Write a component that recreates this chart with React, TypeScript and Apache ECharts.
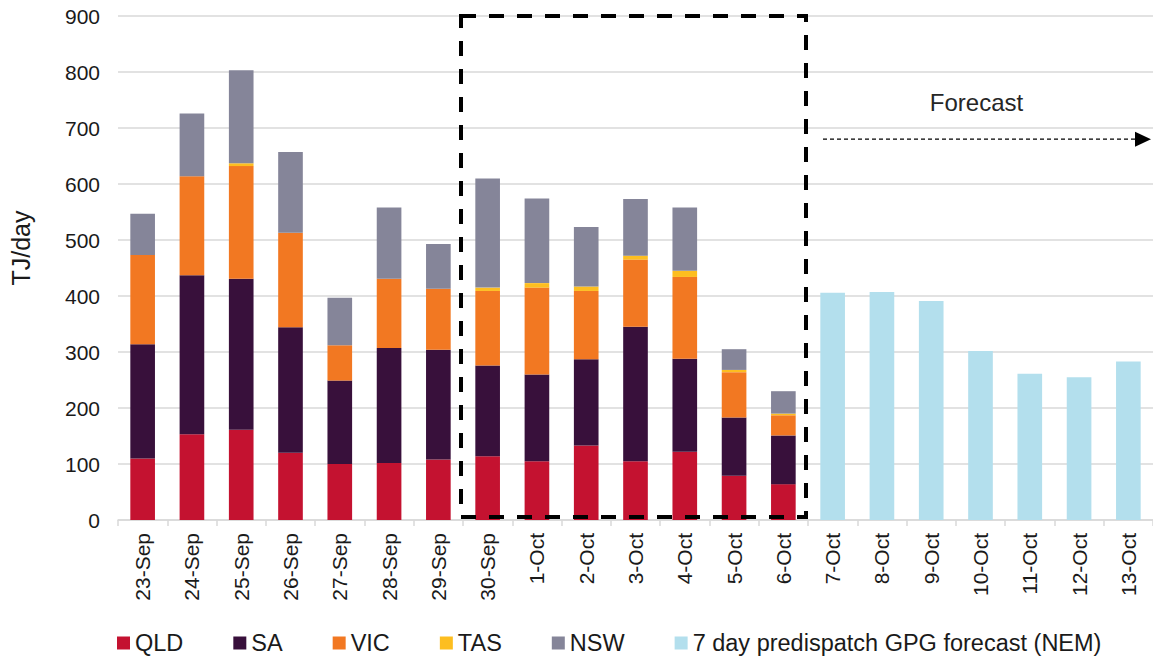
import React, { useEffect, useRef } from "react";
import * as echarts from "echarts";

const categories = [
  "23-Sep", "24-Sep", "25-Sep", "26-Sep", "27-Sep", "28-Sep", "29-Sep",
  "30-Sep", "1-Oct", "2-Oct", "3-Oct", "4-Oct", "5-Oct", "6-Oct",
  "7-Oct", "8-Oct", "9-Oct", "10-Oct", "11-Oct", "12-Oct", "13-Oct",
];
const qld = [110, 153, 161, 120, 100, 102, 108, 114, 105, 133, 105, 122, 79, 64];
const sa = [204, 284, 270, 224, 149, 205, 196, 162, 155, 154, 240, 166, 104, 87];
const vic = [159, 177, 201, 169, 63, 124, 109, 133, 155, 122, 120, 146, 81, 36];
const tas = [0, 0, 5, 0, 0, 0, 0, 6, 8, 8, 7, 11, 4, 3];
const nsw = [74, 112, 166, 144, 85, 127, 80, 195, 151, 106, 101, 113, 37, 40];
const forecast = [406, 407, 391, 302, 261, 255, 283];

const yTicks = { min: 0, max: 900, interval: 100 };
const boxRange = ["30-Sep", "6-Oct"];
const forecastLabel = "Forecast";
const arrowValue = 680;
const forecastTextValue = 745;

const FONT = "'Liberation Sans', Arial, sans-serif";
const TEXT = "#1a1a1a";

export default function App() {
  const ref = useRef<HTMLDivElement>(null);

  useEffect(() => {
    if (!ref.current) return;
    const chart = echarts.init(ref.current, undefined, { renderer: "svg" });
    const pad = (arr: number[]) => arr.concat(new Array(forecast.length).fill("-") as any);
    const fc = (new Array(qld.length).fill("-") as any[]).concat(forecast);

    const mk = (name: string, data: any[], color: string) => ({
      name,
      type: "bar",
      stack: "total",
      barWidth: "50%",
      data,
      itemStyle: { color },
      emphasis: { disabled: true },
    });

    chart.setOption({
      animation: false,
      textStyle: { fontFamily: FONT },
      grid: { left: 118, right: 0, top: 16, bottom: 141, containLabel: false },
      legend: {
        left: 112,
        top: 626,
        itemWidth: 13,
        itemHeight: 13,
        itemGap: 50,
        icon: "rect",
        textStyle: { fontSize: 23.5, color: TEXT, fontFamily: FONT },
        data: ["QLD", "SA", "VIC", "TAS", "NSW", "7 day predispatch GPG forecast (NEM)"],
      },
      xAxis: {
        type: "category",
        data: categories,
        axisLine: { lineStyle: { color: "#d9d9d9", width: 1.5 } },
        axisTick: { show: true, length: 6, lineStyle: { color: "#d9d9d9", width: 1.5 } },
        axisLabel: { rotate: 90, fontSize: 21, color: TEXT, margin: 13, interval: 0, fontFamily: FONT },
      },
      yAxis: {
        type: "value",
        min: yTicks.min,
        max: yTicks.max,
        interval: yTicks.interval,
        axisLine: { show: false },
        axisTick: { show: false },
        splitLine: { lineStyle: { color: "#d9d9d9", width: 1.5 } },
        axisLabel: { fontSize: 21, color: TEXT, margin: 18, fontFamily: FONT },
      },
      series: [
        mk("QLD", pad(qld), "#C41230"),
        mk("SA", pad(sa), "#38103B"),
        mk("VIC", pad(vic), "#F27822"),
        mk("TAS", pad(tas), "#FDBE20"),
        mk("NSW", pad(nsw), "#858599"),
        mk("7 day predispatch GPG forecast (NEM)", fc, "#B3DFED"),
      ],
    });

    // annotations positioned through the chart's own scales
    const px = (cat: string, v: number) => chart.convertToPixel({ gridIndex: 0 }, [cat, v]) as number[];
    const c0 = px(categories[0], 0);
    const c1 = px(categories[1], 0);
    const band = c1[0] - c0[0];
    const left = px(boxRange[0], yTicks.max);
    const right = px(boxRange[1], 0);
    const x1 = left[0] - band / 2 - 2;
    const x2 = right[0] + band / 2 - 2;
    const y1 = left[1];
    const y2 = right[1] - 3;
    const firstFc = px(categories[qld.length], arrowValue);
    const lastFc = px(categories[categories.length - 1], arrowValue);
    const arrowY = firstFc[1];
    const arrowX1 = firstFc[0] - band / 2 + 15;
    const arrowX2 = lastFc[0] + band / 2 - 2;
    const midFc = px(categories[qld.length + 3], forecastTextValue);

    chart.setOption({
      graphic: [
        {
          type: "rect",
          shape: { x: x1, y: y1, width: x2 - x1, height: y2 - y1 },
          style: { fill: "none", stroke: "#000", lineWidth: 4, lineDash: [15, 13] },
          z: 100,
        },
        {
          type: "line",
          shape: { x1: arrowX1, y1: arrowY, x2: arrowX2 - 14, y2: arrowY },
          style: { stroke: "#000", lineWidth: 1.2, lineDash: [4, 3] },
          z: 100,
        },
        {
          type: "polygon",
          shape: { points: [[arrowX2 - 16, arrowY - 7.5], [arrowX2, arrowY], [arrowX2 - 16, arrowY + 7.5]] },
          style: { fill: "#000" },
          z: 100,
        },
        {
          type: "text",
          x: midFc[0] - 4,
          y: midFc[1],
          style: {
            text: forecastLabel,
            fontSize: 24,
            fontFamily: FONT,
            fill: "#262626",
            align: "center",
            verticalAlign: "middle",
          },
          z: 100,
        },
        {
          type: "text",
          x: 21,
          y: 248,
          rotation: Math.PI / 2,
          style: {
            text: "TJ/day",
            fontSize: 25,
            fontFamily: FONT,
            fill: TEXT,
            align: "center",
            verticalAlign: "middle",
          },
        },
      ],
    });

    return () => chart.dispose();
  }, []);

  return (
    <div
      ref={ref}
      style={{ position: "fixed", left: 0, top: 0, width: 1153, height: 661, background: "#fff" }}
    />
  );
}
